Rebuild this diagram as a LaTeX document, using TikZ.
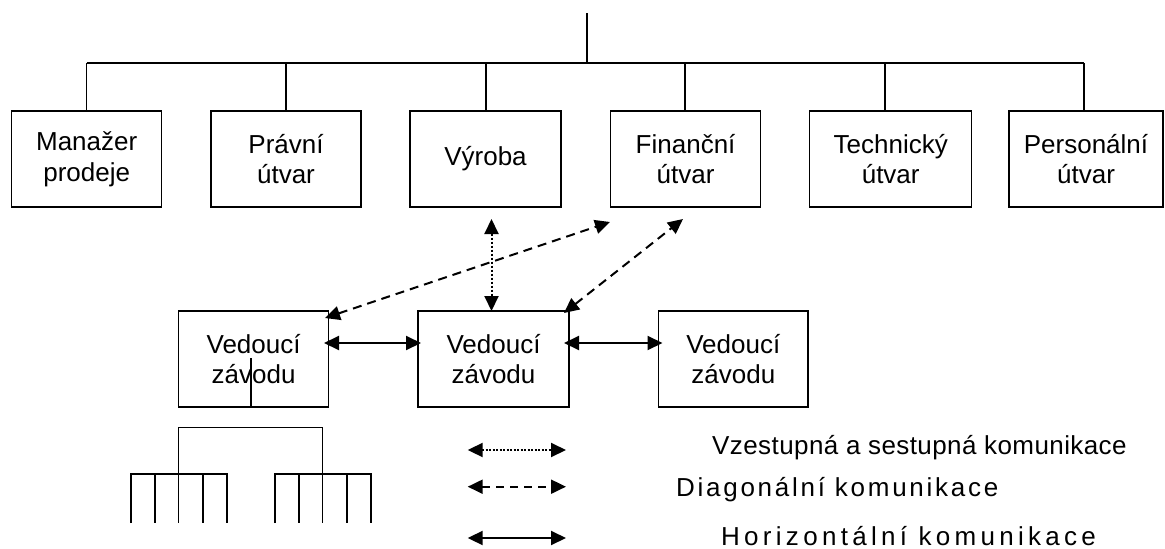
\documentclass[tikz,border=0pt]{standalone}
\usepackage{fontspec}
\setmainfont{Liberation Sans}
\usetikzlibrary{arrows.meta}
\begin{document}
\begin{tikzpicture}[x=1pt,y=-1pt,
  every node/.style={font=\fontsize{26}{30.5}\selectfont},
  unit/.style={draw,line width=1.3pt,minimum height=96pt,align=center,inner sep=0pt},
  link/.style={line width=1.3pt},
  comm/.style={line width=2pt,{Triangle[length=15pt,width=14pt]}-{Triangle[length=15pt,width=14pt]}},
  updown/.style={comm,dash pattern=on 2pt off 2pt},
  diag/.style={comm,dash pattern=on 9pt off 6pt},
  horiz/.style={comm},
  caption/.style={anchor=base west,inner sep=0pt}]
\useasboundingbox (0,0) rectangle (1165,549);

% top level units
\node[unit,minimum width=150pt] (m1) at (86.7,159) {Manažer\\prodeje};
\node[unit,minimum width=150pt] (m2) at (286,159) {Právní\\útvar};
\node[unit,minimum width=151pt] (m3) at (485.5,159) {Výroba};
\node[unit,minimum width=150pt] (m4) at (685.6,159) {Finanční\\útvar};
\node[unit,minimum width=162pt] (m5) at (890.7,159) {Technický\\útvar};
\node[unit,minimum width=154pt] (m6) at (1086,159) {Personální\\útvar};

% plant managers
\node[unit,minimum width=150pt] (v1) at (253.6,358.9) {Vedoucí\\závodu};
\node[unit,minimum width=151pt] (v2) at (493.5,358.9) {Vedoucí\\závodu};
\node[unit,minimum width=149.5pt] (v3) at (733.3,358.9) {Vedoucí\\závodu};

% bus of the organisation chart
\coordinate (top) at (587,13);
\coordinate (t1) at (86.5,63);
\coordinate (t2) at (286,63);
\coordinate (t3) at (486,63);
\coordinate (t4) at (685,63);
\coordinate (t5) at (885,63);
\coordinate (t6) at (1084,63);
\draw[link] (top) -- (top |- t1);
\draw[link] (t1) -- (t6);
\foreach \i in {1,...,6} \draw[link] (t\i) -- (t\i |- m\i.north);

% stray stroke inside the first plant box
\coordinate (s1) at (251,358);
\draw[link] (s1) -- (s1 |- v1.south);

% communication arrows
\coordinate (u1) at (491.5,219);
\coordinate (u2) at (491.5,311);
\draw[updown] (u1) -- (u2);
\coordinate (a1) at (325,318);
\coordinate (a2) at (610,222);
\draw[diag] (a1) -- (a2);
\coordinate (b1) at (564,313);
\coordinate (b2) at (683,219);
\draw[diag] (b1) -- (b2);
\coordinate (h1) at (324,343);
\coordinate (h2) at (421,343);
\draw[horiz] (h1) -- (h2);
\coordinate (h3) at (564,343);
\coordinate (h4) at (662.5,343);
\draw[horiz] (h3) -- (h4);

% small tree symbol
\draw[link] (131,523) -- (131,474) -- (227,474) -- (227,523);
\foreach \x in {155,178.7,203} \draw[link] (\x,474) -- (\x,523);
\draw[link] (275,523) -- (275,474) -- (371,474) -- (371,523);
\foreach \x in {299,322.7,347} \draw[link] (\x,474) -- (\x,523);
\draw[link] (178.7,474) -- (178.7,427.3) -- (322.7,427.3) -- (322.7,474);

% legend
\coordinate (l1a) at (467.7,450);
\coordinate (l1b) at (566,450);
\coordinate (l2a) at (467.7,486.7);
\coordinate (l2b) at (566,486.7);
\coordinate (l3a) at (467.7,538);
\coordinate (l3b) at (566,538);
\draw[updown,dash pattern=on 2pt off 1.5pt] (l1a) -- (l1b);
\draw[diag,dash pattern=on 8pt off 6pt] (l2a) -- (l2b);
\draw[horiz] (l3a) -- (l3b);
\node[caption] (c1) at (712,454) {\addfontfeatures{LetterSpace=1.6}Vzestupná a sestupná komunikace};
\node[caption] (c2) at (676,496) {\addfontfeatures{LetterSpace=10.5}Diagonální komunikace};
\node[caption] (c3) at (721,545) {\addfontfeatures{LetterSpace=16.5}Horizontální komunikace};
\end{tikzpicture}
\end{document}
